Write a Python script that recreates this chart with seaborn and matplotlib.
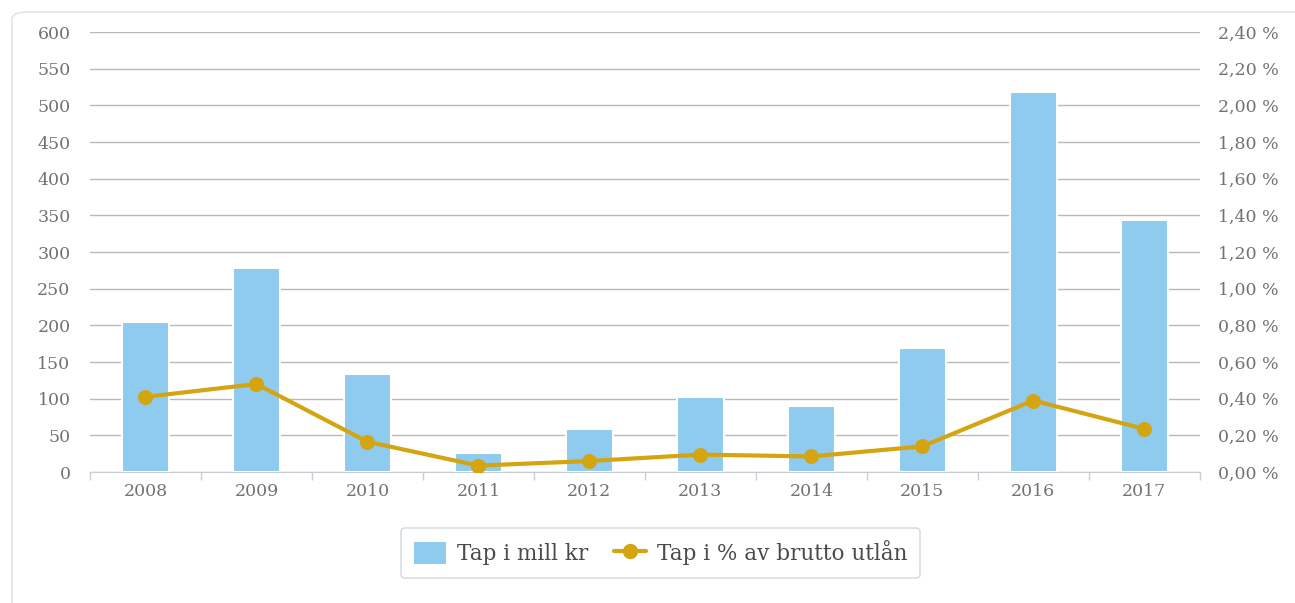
import matplotlib.pyplot as plt
import numpy as np
import pandas as pd
import seaborn as sns
from matplotlib.patches import FancyBboxPatch, Patch
from matplotlib.lines import Line2D
from matplotlib.ticker import FixedLocator

years = ["2008", "2009", "2010", "2011", "2012", "2013", "2014", "2015", "2016", "2017"]
tap_mill = [205, 278, 134, 26, 59, 102, 90, 169, 518, 344]
tap_pct = [0.41, 0.48, 0.165, 0.035, 0.06, 0.095, 0.085, 0.14, 0.39, 0.235]

left_ticks = list(range(0, 601, 50))
right_ticks = [i * 0.2 for i in range(13)]

bar_color = "#8fcbee"
line_color = "#d4a511"
text_color = "#727272"
grid_color = "#b9b9b9"

df = pd.DataFrame({"aar": years, "mill": tap_mill, "pct": tap_pct})
df["pos"] = np.arange(len(years))

sns.set_style("white")
plt.rcParams["font.family"] = ["DejaVu Serif"]

fig = plt.figure(figsize=(12.95, 6.03), dpi=100)
ax = fig.add_axes([0.0695, 0.2172, 0.857, 0.7297])

# panel border
fig.patches.append(FancyBboxPatch((12 / 1295, -0.05), 1.2, 1 - 12 / 603 + 0.05,
                                  boxstyle="round,pad=0,rounding_size=0.012",
                                  transform=fig.transFigure, fill=False,
                                  edgecolor="#dfe5ec", linewidth=1.2, zorder=0))

sns.barplot(data=df, x="aar", y="mill", color=bar_color, saturation=1,
            width=0.42, edgecolor="white", linewidth=1.5, ax=ax, zorder=3)
ax.set_ylim(0, 600)
ax.set_xlim(-0.5, len(years) - 0.5)
ax.set_yticks(left_ticks)
ax.yaxis.grid(True, color=grid_color, linewidth=1)
ax.set_axisbelow(True)
ax.set_xlabel("")
ax.set_ylabel("")
for s in ["top", "left", "right"]:
    ax.spines[s].set_visible(False)
ax.spines["bottom"].set_color("#c8ced6")
ax.tick_params(axis="y", length=0, pad=14, labelsize=12.5, labelcolor=text_color)
ax.tick_params(axis="x", which="major", length=0, pad=8, labelsize=12.5, labelcolor=text_color)
ax.xaxis.set_minor_locator(FixedLocator(np.arange(-0.5, len(years), 1.0)))
ax.tick_params(axis="x", which="minor", bottom=True, length=6, width=1,
               color="#c8ced6", direction="out")

ax2 = ax.twinx()
sns.lineplot(data=df, x="pos", y="pct", color=line_color, linewidth=3,
             marker="o", markersize=10, markeredgecolor=line_color, ax=ax2, zorder=5)
ax2.set_ylim(0, 2.4)
ax2.set_xlim(-0.5, len(years) - 0.5)
ax2.set_yticks(right_ticks)
ax2.set_yticklabels([f"{v:.2f}".replace(".", ",") + " %" for v in right_ticks])
ax2.set_ylabel("")
ax2.set_xlabel("")
for s in ["top", "left", "right", "bottom"]:
    ax2.spines[s].set_visible(False)
ax2.tick_params(axis="y", length=0, pad=13, labelsize=12.5, labelcolor=text_color)

handles = [Patch(facecolor=bar_color, edgecolor="none"),
           Line2D([0], [0], color=line_color, linewidth=3, marker="o", markersize=10)]
leg = fig.legend(handles, ["Tap i mill kr", "Tap i % av brutto utlån"],
                 loc="center", bbox_to_anchor=(0.51, 0.083), ncol=2,
                 frameon=True, fontsize=15.5, handlelength=1.5, handleheight=1.2,
                 columnspacing=1.2, handletextpad=0.5, borderpad=0.6, fancybox=True)
leg.get_frame().set_edgecolor("#cfd5dc")
leg.get_frame().set_linewidth(1.2)
for t in leg.get_texts():
    t.set_color("#4a4a4a")

fig.savefig("out.png", dpi=100)
